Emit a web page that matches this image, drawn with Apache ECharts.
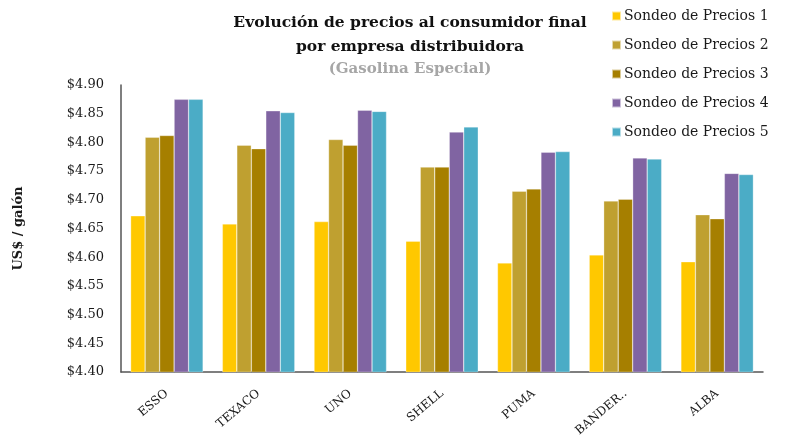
<!DOCTYPE html>
<html>
<head>
<meta charset="utf-8">
<script src="https://cdn.jsdelivr.net/npm/echarts@6/dist/echarts.min.js"></script>
<style>
  html, body { margin: 0; padding: 0; background: #fff; }
  #chart { width: 799px; height: 435px; }
</style>
</head>
<body>
<div id="chart"></div>
<script>
// categorias y series
const empresas = ["ESSO", "TEXACO", "UNO", "SHELL", "PUMA", "BANDER..", "ALBA"]
const sondeo1 = [4.672, 4.658, 4.662, 4.628, 4.590, 4.604, 4.592]
const sondeo2 = [4.809, 4.795, 4.805, 4.757, 4.715, 4.698, 4.674]
const sondeo3 = [4.812, 4.789, 4.795, 4.757, 4.719, 4.701, 4.667]
const sondeo4 = [4.875, 4.855, 4.856, 4.818, 4.783, 4.773, 4.746]
const sondeo5 = [4.875, 4.852, 4.854, 4.827, 4.784, 4.771, 4.744]
const nombres = ["Sondeo de Precios 1", "Sondeo de Precios 2", "Sondeo de Precios 3", "Sondeo de Precios 4", "Sondeo de Precios 5"]
const colores = ["#FFC800", "#BFA030", "#A67F00", "#8064A2", "#4BACC6"]

const serif = "DejaVu Serif"
const chart = echarts.init(document.getElementById("chart"))

const datos = [sondeo1, sondeo2, sondeo3, sondeo4, sondeo5]
const series = datos.map((d, i) => ({
  name: nombres[i],
  type: "bar",
  data: d,
  barGap: "0%",
  barCategoryGap: "21%",
  itemStyle: { color: colores[i], borderColor: "rgba(255,255,255,0.6)", borderWidth: 0.5 }
}))

chart.setOption({
  animation: false,
  title: {
    text: "Evolución de precios al consumidor final\npor empresa distribuidora",
    subtext: "(Gasolina Especial)",
    left: 405,
    top: 6,
    textAlign: "center",
    itemGap: 3,
    textStyle: { fontFamily: serif, fontWeight: "bold", fontSize: 15.5, color: "#111", lineHeight: 24 },
    subtextStyle: { fontFamily: serif, fontWeight: "bold", fontSize: 15, color: "#a6a6a6" }
  },
  legend: {
    orient: "vertical",
    left: 606,
    top: 4,
    itemWidth: 9,
    itemHeight: 9,
    itemGap: 15,
    icon: "rect",
    textStyle: { fontFamily: serif, fontSize: 14, color: "#1a1a1a", padding: [0, 0, 0, -2] }
  },
  grid: { left: 121, right: 36, top: 85, bottom: 63, outerBoundsMode: "none" },
  xAxis: {
    type: "category",
    data: empresas,
    axisLine: { lineStyle: { color: "#555", width: 1.5 } },
    axisTick: { show: false },
    axisLabel: { rotate: 40, fontFamily: serif, fontSize: 12, color: "#1a1a1a", margin: 20 }
  },
  yAxis: {
    type: "value",
    min: 4.40,
    max: 4.90,
    interval: 0.05,
    name: "US$ / galón",
    nameLocation: "middle",
    nameGap: 96,
    nameTextStyle: { fontFamily: serif, fontWeight: "bold", fontSize: 13, color: "#1a1a1a" },
    axisLine: { show: true, lineStyle: { color: "#555", width: 1.5 } },
    axisTick: { show: false },
    splitLine: { show: false },
    axisLabel: {
      fontFamily: serif,
      fontSize: 13,
      color: "#1a1a1a",
      margin: 17,
      formatter: v => "$" + v.toFixed(2)
    }
  },
  series: series
})
</script>
</body>
</html>
